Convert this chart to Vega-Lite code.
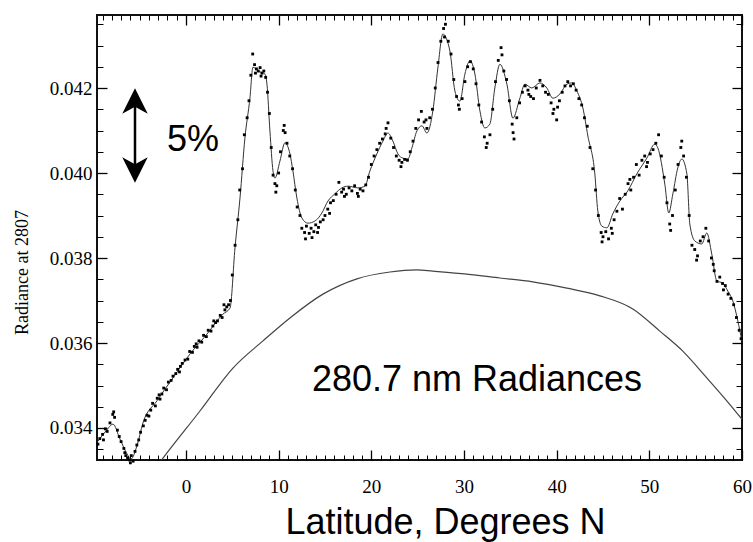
{
  "$schema": "https://vega.github.io/schema/vega-lite/v6.json",
  "width": 645,
  "height": 445,
  "autosize": {"type": "none"},
  "padding": {"left": 97, "top": 15, "right": 11, "bottom": 82},
  "background": "white",
  "config": {"view": {"stroke": "#111", "strokeWidth": 2}},
  "datasets": {
    "clim": [
      {"lat": -3.3, "rad": 0.03305}, {"lat": -2.48, "rad": 0.03329}, {"lat": 1.51, "rad": 0.0344}, {"lat": 5.07, "rad": 0.03541},
      {"lat": 8.31, "rad": 0.03605}, {"lat": 11.22, "rad": 0.03659}, {"lat": 14.78, "rad": 0.03715}, {"lat": 18.45, "rad": 0.03751},
      {"lat": 22.01, "rad": 0.03767}, {"lat": 24.92, "rad": 0.03772}, {"lat": 26.64, "rad": 0.03769}, {"lat": 30.31, "rad": 0.03762},
      {"lat": 33.87, "rad": 0.03753}, {"lat": 37.43, "rad": 0.03744}, {"lat": 41.1, "rad": 0.03729}, {"lat": 44.66, "rad": 0.03711},
      {"lat": 48.22, "rad": 0.0368}, {"lat": 51.13, "rad": 0.03628}, {"lat": 53.61, "rad": 0.03581}, {"lat": 56.2, "rad": 0.03518},
      {"lat": 58.36, "rad": 0.03464}, {"lat": 59.98, "rad": 0.03421}
    ],
    "fit": [
      {"lat": -9.49, "rad": 0.03369}, {"lat": -8.63, "rad": 0.03393}, {"lat": -7.87, "rad": 0.03409}, {"lat": -7.12, "rad": 0.03374},
      {"lat": -6.36, "rad": 0.03339}, {"lat": -5.93, "rad": 0.03327}, {"lat": -5.29, "rad": 0.03358}, {"lat": -4.64, "rad": 0.03412},
      {"lat": -3.13, "rad": 0.03464}, {"lat": -1.4, "rad": 0.03518}, {"lat": 0.43, "rad": 0.03574}, {"lat": 2.27, "rad": 0.03621},
      {"lat": 3.99, "rad": 0.03668}, {"lat": 4.75, "rad": 0.03682}, {"lat": 5.29, "rad": 0.03824}, {"lat": 5.83, "rad": 0.03941},
      {"lat": 6.36, "rad": 0.04082}, {"lat": 6.9, "rad": 0.04176}, {"lat": 7.23, "rad": 0.04249}, {"lat": 7.77, "rad": 0.0424},
      {"lat": 8.52, "rad": 0.04233}, {"lat": 8.74, "rad": 0.04209}, {"lat": 9.06, "rad": 0.04099}, {"lat": 9.39, "rad": 0.04005},
      {"lat": 9.6, "rad": 0.03988}, {"lat": 10.14, "rad": 0.04028}, {"lat": 10.68, "rad": 0.04071}, {"lat": 11.22, "rad": 0.04045},
      {"lat": 11.54, "rad": 0.04005}, {"lat": 11.97, "rad": 0.03941}, {"lat": 12.51, "rad": 0.03894}, {"lat": 13.16, "rad": 0.03882},
      {"lat": 13.92, "rad": 0.03887}, {"lat": 14.67, "rad": 0.03906}, {"lat": 15.32, "rad": 0.03934}, {"lat": 16.07, "rad": 0.03951},
      {"lat": 16.83, "rad": 0.03965}, {"lat": 17.48, "rad": 0.03969}, {"lat": 18.55, "rad": 0.03965}, {"lat": 19.31, "rad": 0.03969},
      {"lat": 19.85, "rad": 0.04005}, {"lat": 20.6, "rad": 0.04045}, {"lat": 21.25, "rad": 0.04075}, {"lat": 21.79, "rad": 0.04094},
      {"lat": 22.33, "rad": 0.04075}, {"lat": 22.87, "rad": 0.04045}, {"lat": 23.41, "rad": 0.04035}, {"lat": 23.95, "rad": 0.04033},
      {"lat": 24.38, "rad": 0.04059}, {"lat": 24.92, "rad": 0.04099}, {"lat": 25.46, "rad": 0.04111}, {"lat": 26.0, "rad": 0.04094},
      {"lat": 26.64, "rad": 0.04146}, {"lat": 27.18, "rad": 0.04247}, {"lat": 27.72, "rad": 0.04327}, {"lat": 28.48, "rad": 0.04287},
      {"lat": 29.02, "rad": 0.04193}, {"lat": 29.56, "rad": 0.04169}, {"lat": 30.1, "rad": 0.04233}, {"lat": 30.64, "rad": 0.04264},
      {"lat": 31.18, "rad": 0.04233}, {"lat": 31.72, "rad": 0.04146}, {"lat": 32.25, "rad": 0.04106}, {"lat": 32.79, "rad": 0.04115},
      {"lat": 33.33, "rad": 0.042}, {"lat": 33.87, "rad": 0.04256}, {"lat": 34.63, "rad": 0.04209}, {"lat": 35.28, "rad": 0.04129},
      {"lat": 36.03, "rad": 0.04176}, {"lat": 36.57, "rad": 0.04209}, {"lat": 37.32, "rad": 0.042}, {"lat": 38.19, "rad": 0.04212},
      {"lat": 38.94, "rad": 0.042}, {"lat": 39.59, "rad": 0.04176}, {"lat": 40.35, "rad": 0.04186}, {"lat": 41.1, "rad": 0.04209},
      {"lat": 41.64, "rad": 0.04212}, {"lat": 42.18, "rad": 0.04193}, {"lat": 42.83, "rad": 0.04153}, {"lat": 43.37, "rad": 0.04087},
      {"lat": 44.12, "rad": 0.03998}, {"lat": 44.44, "rad": 0.03911}, {"lat": 44.88, "rad": 0.03875}, {"lat": 45.42, "rad": 0.03871},
      {"lat": 46.06, "rad": 0.03904}, {"lat": 46.82, "rad": 0.03934}, {"lat": 47.68, "rad": 0.03958}, {"lat": 48.65, "rad": 0.03998},
      {"lat": 49.73, "rad": 0.04035}, {"lat": 50.59, "rad": 0.04068}, {"lat": 50.92, "rad": 0.04059}, {"lat": 51.67, "rad": 0.03974},
      {"lat": 52.1, "rad": 0.03906}, {"lat": 52.54, "rad": 0.03951}, {"lat": 53.07, "rad": 0.04012}, {"lat": 53.51, "rad": 0.04033},
      {"lat": 54.05, "rad": 0.03998}, {"lat": 54.37, "rad": 0.0388}, {"lat": 54.91, "rad": 0.0384}, {"lat": 55.66, "rad": 0.03833},
      {"lat": 56.2, "rad": 0.03859}, {"lat": 56.74, "rad": 0.03809}, {"lat": 57.28, "rad": 0.03746}, {"lat": 57.93, "rad": 0.03741},
      {"lat": 58.47, "rad": 0.03722}, {"lat": 59.01, "rad": 0.03699}, {"lat": 59.55, "rad": 0.03652}, {"lat": 59.98, "rad": 0.03605}
    ],
    "dots": [
      {"lat": -9.5, "rad": 0.03362}, {"lat": -9.3, "rad": 0.03375}, {"lat": -9.0, "rad": 0.03385}, {"lat": -8.7, "rad": 0.03398},
      {"lat": -8.5, "rad": 0.03392}, {"lat": -8.2, "rad": 0.03412}, {"lat": -7.9, "rad": 0.03432}, {"lat": -7.7, "rad": 0.03425},
      {"lat": -7.4, "rad": 0.03395}, {"lat": -7.2, "rad": 0.0338}, {"lat": -7.0, "rad": 0.03368}, {"lat": -6.7, "rad": 0.03352},
      {"lat": -6.5, "rad": 0.03335}, {"lat": -6.3, "rad": 0.0333}, {"lat": -6.1, "rad": 0.03325}, {"lat": -5.9, "rad": 0.03335},
      {"lat": -5.7, "rad": 0.03322}, {"lat": -5.5, "rad": 0.03345}, {"lat": -5.3, "rad": 0.0336}, {"lat": -5.1, "rad": 0.03372},
      {"lat": -4.9, "rad": 0.0339}, {"lat": -4.6, "rad": 0.03405}, {"lat": -4.4, "rad": 0.03418}, {"lat": -4.2, "rad": 0.0343},
      {"lat": -4.0, "rad": 0.03428}, {"lat": -3.8, "rad": 0.03442}, {"lat": -3.6, "rad": 0.03458}, {"lat": -3.3, "rad": 0.03452},
      {"lat": -3.1, "rad": 0.0347}, {"lat": -2.9, "rad": 0.03478}, {"lat": -2.6, "rad": 0.0348}, {"lat": -2.4, "rad": 0.03494},
      {"lat": -2.1, "rad": 0.0349}, {"lat": -1.9, "rad": 0.03508}, {"lat": -1.6, "rad": 0.03512}, {"lat": -1.4, "rad": 0.03522},
      {"lat": -1.1, "rad": 0.03528}, {"lat": -0.9, "rad": 0.03538}, {"lat": -0.6, "rad": 0.03545}, {"lat": -0.4, "rad": 0.03552},
      {"lat": -0.1, "rad": 0.0356}, {"lat": 0.2, "rad": 0.03562}, {"lat": 0.4, "rad": 0.0358}, {"lat": 0.7, "rad": 0.03578},
      {"lat": 0.9, "rad": 0.03592}, {"lat": 1.2, "rad": 0.0359}, {"lat": 1.4, "rad": 0.03605}, {"lat": 1.7, "rad": 0.03602},
      {"lat": 1.9, "rad": 0.03618}, {"lat": 2.2, "rad": 0.03615}, {"lat": 2.4, "rad": 0.0363}, {"lat": 2.7, "rad": 0.03628},
      {"lat": 2.9, "rad": 0.0364}, {"lat": 3.2, "rad": 0.03648}, {"lat": 3.4, "rad": 0.03652}, {"lat": 3.7, "rad": 0.03665},
      {"lat": 3.9, "rad": 0.0366}, {"lat": 4.2, "rad": 0.03678}, {"lat": 4.4, "rad": 0.03685}, {"lat": 4.6, "rad": 0.0369},
      {"lat": 4.8, "rad": 0.037}, {"lat": 5.0, "rad": 0.0376}, {"lat": 5.3, "rad": 0.0383}, {"lat": 5.6, "rad": 0.0389},
      {"lat": 5.8, "rad": 0.0396}, {"lat": 6.1, "rad": 0.0401}, {"lat": 6.3, "rad": 0.0409}, {"lat": 6.6, "rad": 0.0413},
      {"lat": 6.8, "rad": 0.0417}, {"lat": 7.0, "rad": 0.0423}, {"lat": 7.2, "rad": 0.0428}, {"lat": 7.4, "rad": 0.04255},
      {"lat": 7.6, "rad": 0.04245}, {"lat": 7.8, "rad": 0.0424}, {"lat": 8.0, "rad": 0.04248}, {"lat": 8.2, "rad": 0.04235},
      {"lat": 8.4, "rad": 0.0424}, {"lat": 8.6, "rad": 0.04225}, {"lat": 8.8, "rad": 0.0419}, {"lat": 9.0, "rad": 0.0414},
      {"lat": 9.2, "rad": 0.0406}, {"lat": 9.4, "rad": 0.03995}, {"lat": 9.6, "rad": 0.03975}, {"lat": 9.8, "rad": 0.0397},
      {"lat": 10.0, "rad": 0.04}, {"lat": 10.2, "rad": 0.0405}, {"lat": 10.5, "rad": 0.041}, {"lat": 10.7, "rad": 0.04095},
      {"lat": 10.9, "rad": 0.0407}, {"lat": 11.2, "rad": 0.0404}, {"lat": 11.5, "rad": 0.0401}, {"lat": 11.8, "rad": 0.0396},
      {"lat": 12.0, "rad": 0.0392}, {"lat": 12.3, "rad": 0.039}, {"lat": 12.5, "rad": 0.0387}, {"lat": 12.8, "rad": 0.0386},
      {"lat": 13.0, "rad": 0.03875}, {"lat": 13.3, "rad": 0.03858}, {"lat": 13.5, "rad": 0.0387}, {"lat": 13.8, "rad": 0.03862},
      {"lat": 14.0, "rad": 0.03878}, {"lat": 14.3, "rad": 0.03872}, {"lat": 14.5, "rad": 0.03885}, {"lat": 14.8, "rad": 0.0389},
      {"lat": 15.0, "rad": 0.039}, {"lat": 15.3, "rad": 0.03915}, {"lat": 15.6, "rad": 0.0393}, {"lat": 15.9, "rad": 0.03935},
      {"lat": 16.2, "rad": 0.0395}, {"lat": 16.5, "rad": 0.03978}, {"lat": 16.8, "rad": 0.03955}, {"lat": 17.0, "rad": 0.03962},
      {"lat": 17.3, "rad": 0.0395}, {"lat": 17.6, "rad": 0.03965}, {"lat": 17.9, "rad": 0.03958}, {"lat": 18.2, "rad": 0.0397},
      {"lat": 18.5, "rad": 0.03952}, {"lat": 18.8, "rad": 0.03962}, {"lat": 19.1, "rad": 0.03958}, {"lat": 19.4, "rad": 0.03972},
      {"lat": 19.7, "rad": 0.0399}, {"lat": 20.0, "rad": 0.0402}, {"lat": 20.3, "rad": 0.0404}, {"lat": 20.6, "rad": 0.04055},
      {"lat": 20.9, "rad": 0.0407}, {"lat": 21.2, "rad": 0.0408}, {"lat": 21.5, "rad": 0.04092}, {"lat": 21.8, "rad": 0.04118},
      {"lat": 22.1, "rad": 0.04082}, {"lat": 22.4, "rad": 0.0406}, {"lat": 22.7, "rad": 0.0404}, {"lat": 23.0, "rad": 0.0403},
      {"lat": 23.3, "rad": 0.04025}, {"lat": 23.6, "rad": 0.04032}, {"lat": 23.9, "rad": 0.0403}, {"lat": 24.2, "rad": 0.0405},
      {"lat": 24.5, "rad": 0.04075}, {"lat": 24.8, "rad": 0.04105}, {"lat": 25.1, "rad": 0.04125}, {"lat": 25.4, "rad": 0.04145},
      {"lat": 25.7, "rad": 0.0412}, {"lat": 26.0, "rad": 0.04105}, {"lat": 26.3, "rad": 0.0413}, {"lat": 26.6, "rad": 0.0415},
      {"lat": 26.9, "rad": 0.042}, {"lat": 27.2, "rad": 0.0426}, {"lat": 27.5, "rad": 0.0431}, {"lat": 27.8, "rad": 0.0434},
      {"lat": 28.0, "rad": 0.0435}, {"lat": 28.3, "rad": 0.0431}, {"lat": 28.6, "rad": 0.0428}, {"lat": 28.9, "rad": 0.0422},
      {"lat": 29.2, "rad": 0.0418}, {"lat": 29.5, "rad": 0.0415}, {"lat": 29.8, "rad": 0.04175}, {"lat": 30.1, "rad": 0.04215},
      {"lat": 30.4, "rad": 0.0425}, {"lat": 30.7, "rad": 0.04262}, {"lat": 31.0, "rad": 0.04245}, {"lat": 31.3, "rad": 0.0421},
      {"lat": 31.6, "rad": 0.0416}, {"lat": 31.9, "rad": 0.0412}, {"lat": 32.2, "rad": 0.04085}, {"lat": 32.5, "rad": 0.0407},
      {"lat": 32.8, "rad": 0.0409}, {"lat": 33.1, "rad": 0.0415}, {"lat": 33.4, "rad": 0.04215}, {"lat": 33.7, "rad": 0.04265},
      {"lat": 34.0, "rad": 0.04295}, {"lat": 34.3, "rad": 0.0424}, {"lat": 34.6, "rad": 0.0422}, {"lat": 34.9, "rad": 0.0417},
      {"lat": 35.2, "rad": 0.04115}, {"lat": 35.4, "rad": 0.0408}, {"lat": 35.7, "rad": 0.0413}, {"lat": 36.0, "rad": 0.04165},
      {"lat": 36.3, "rad": 0.0419}, {"lat": 36.6, "rad": 0.04205}, {"lat": 36.9, "rad": 0.04195}, {"lat": 37.2, "rad": 0.0418},
      {"lat": 37.5, "rad": 0.04175}, {"lat": 37.8, "rad": 0.042}, {"lat": 38.2, "rad": 0.04218}, {"lat": 38.5, "rad": 0.04205},
      {"lat": 38.8, "rad": 0.0419}, {"lat": 39.1, "rad": 0.04185}, {"lat": 39.4, "rad": 0.04165}, {"lat": 39.7, "rad": 0.0415},
      {"lat": 40.0, "rad": 0.04125}, {"lat": 40.3, "rad": 0.0417}, {"lat": 40.6, "rad": 0.0419}, {"lat": 40.9, "rad": 0.04205},
      {"lat": 41.2, "rad": 0.04215}, {"lat": 41.5, "rad": 0.04205}, {"lat": 41.8, "rad": 0.0421}, {"lat": 42.1, "rad": 0.04195},
      {"lat": 42.4, "rad": 0.04175}, {"lat": 42.7, "rad": 0.0416}, {"lat": 43.0, "rad": 0.0413}, {"lat": 43.3, "rad": 0.0411},
      {"lat": 43.6, "rad": 0.0406}, {"lat": 43.9, "rad": 0.0401}, {"lat": 44.2, "rad": 0.0396}, {"lat": 44.5, "rad": 0.039},
      {"lat": 44.8, "rad": 0.0386}, {"lat": 45.0, "rad": 0.0385}, {"lat": 45.3, "rad": 0.03862}, {"lat": 45.6, "rad": 0.03845},
      {"lat": 45.9, "rad": 0.0387}, {"lat": 46.2, "rad": 0.0389}, {"lat": 46.5, "rad": 0.0391}, {"lat": 46.8, "rad": 0.0394},
      {"lat": 47.1, "rad": 0.03915}, {"lat": 47.4, "rad": 0.0395}, {"lat": 47.7, "rad": 0.03975}, {"lat": 48.0, "rad": 0.0396},
      {"lat": 48.3, "rad": 0.0399}, {"lat": 48.6, "rad": 0.0402}, {"lat": 48.9, "rad": 0.03995}, {"lat": 49.2, "rad": 0.0403},
      {"lat": 49.5, "rad": 0.0404}, {"lat": 49.8, "rad": 0.04025}, {"lat": 50.1, "rad": 0.04045}, {"lat": 50.4, "rad": 0.04055},
      {"lat": 50.7, "rad": 0.0407}, {"lat": 51.0, "rad": 0.0409}, {"lat": 51.3, "rad": 0.0404}, {"lat": 51.6, "rad": 0.0399},
      {"lat": 51.9, "rad": 0.0393}, {"lat": 52.2, "rad": 0.0388}, {"lat": 52.5, "rad": 0.039}, {"lat": 52.8, "rad": 0.0396},
      {"lat": 53.1, "rad": 0.0402}, {"lat": 53.4, "rad": 0.0406}, {"lat": 53.7, "rad": 0.0404}, {"lat": 54.0, "rad": 0.0399},
      {"lat": 54.3, "rad": 0.039}, {"lat": 54.6, "rad": 0.0383}, {"lat": 54.9, "rad": 0.0382}, {"lat": 55.2, "rad": 0.03805},
      {"lat": 55.5, "rad": 0.0384}, {"lat": 55.8, "rad": 0.0385}, {"lat": 56.1, "rad": 0.0387}, {"lat": 56.4, "rad": 0.0384},
      {"lat": 56.7, "rad": 0.038}, {"lat": 57.0, "rad": 0.0377}, {"lat": 57.3, "rad": 0.03745}, {"lat": 57.6, "rad": 0.03755},
      {"lat": 57.9, "rad": 0.0374}, {"lat": 58.2, "rad": 0.03735}, {"lat": 58.5, "rad": 0.03715}, {"lat": 58.8, "rad": 0.03705},
      {"lat": 59.1, "rad": 0.0369}, {"lat": 59.4, "rad": 0.0366}, {"lat": 59.7, "rad": 0.0363}, {"lat": 59.9, "rad": 0.0361},
      {"lat": -8.9, "rad": 0.03372}, {"lat": -7.8, "rad": 0.03438}, {"lat": -6.6, "rad": 0.03342}, {"lat": -6.0, "rad": 0.03318},
      {"lat": -2.8, "rad": 0.03468}, {"lat": -0.7, "rad": 0.03532}, {"lat": 1.1, "rad": 0.03598}, {"lat": 3.0, "rad": 0.03652},
      {"lat": 4.1, "rad": 0.0369}, {"lat": 7.5, "rad": 0.04235}, {"lat": 8.1, "rad": 0.04228}, {"lat": 9.7, "rad": 0.03955},
      {"lat": 10.6, "rad": 0.04112}, {"lat": 12.9, "rad": 0.03845}, {"lat": 13.6, "rad": 0.03848}, {"lat": 14.2, "rad": 0.0386},
      {"lat": 15.5, "rad": 0.03905}, {"lat": 17.1, "rad": 0.03945}, {"lat": 18.6, "rad": 0.03945}, {"lat": 21.6, "rad": 0.04105},
      {"lat": 23.2, "rad": 0.04015}, {"lat": 25.9, "rad": 0.04125}, {"lat": 27.9, "rad": 0.0432}, {"lat": 29.4, "rad": 0.0416},
      {"lat": 32.4, "rad": 0.0406}, {"lat": 34.1, "rad": 0.04278}, {"lat": 35.3, "rad": 0.04095}, {"lat": 37.0, "rad": 0.04185},
      {"lat": 39.6, "rad": 0.0414}, {"lat": 40.1, "rad": 0.04155}, {"lat": 44.9, "rad": 0.03838}, {"lat": 46.0, "rad": 0.03858},
      {"lat": 47.9, "rad": 0.03985}, {"lat": 49.7, "rad": 0.04015}, {"lat": 52.3, "rad": 0.03865}, {"lat": 53.5, "rad": 0.04075},
      {"lat": 55.1, "rad": 0.03795}, {"lat": 56.9, "rad": 0.03785}, {"lat": 58.0, "rad": 0.03725}
    ],
    "arrow": [{"lat": -5.5, "top": 0.041694, "bottom": 0.040071}],
    "heads": [{"lat": -5.5, "rad": 0.041694, "dir": "up"}, {"lat": -5.5, "rad": 0.040071, "dir": "down"}],
    "labels": [
      {"lat": -2.05, "rad": 0.04052, "text": "5%"},
      {"lat": 13.59, "rad": 0.034871, "text": "280.7 nm Radiances"}
    ]
  },
  "resolve": {"scale": {"x": "independent", "y": "independent"}, "axis": {"x": "independent", "y": "independent"}},
  "layer": [
    {
      "data": {"name": "clim"},
      "mark": {"type": "line", "color": "#444", "strokeWidth": 1.2, "clip": true, "interpolate": "monotone"},
      "encoding": {
        "x": {"field": "lat", "type": "quantitative", "scale": {"domain": [-9.6, 60], "nice": false, "zero": false},
          "axis": {"orient": "bottom", "values": [0, 10, 20, 30, 40, 50, 60], "format": "d", "ticks": false, "domain": false, "grid": false,
            "labelFont": "Liberation Serif", "labelFontSize": 19, "labelColor": "#000", "labelPadding": 17, "labelFlush": false, "labelOverlap": false,
            "title": "Latitude, Degrees N", "titleFont": "Liberation Sans", "titleFontSize": 36, "titleFontWeight": "normal", "titleColor": "#000",
            "titleX": 348, "titleY": 73, "titleAlign": "center", "titleBaseline": "alphabetic"}},
        "y": {"field": "rad", "type": "quantitative", "scale": {"domain": [0.033247, 0.043718], "nice": false, "zero": false},
          "axis": {"orient": "left", "values": [0.034, 0.036, 0.038, 0.04, 0.042], "format": ".3f", "ticks": false, "domain": false, "grid": false,
            "labelFont": "Liberation Serif", "labelFontSize": 19, "labelColor": "#000", "labelPadding": 5, "labelFlush": false, "labelOverlap": false,
            "title": "Radiance at 2807", "titleFont": "Liberation Serif", "titleFontSize": 18, "titleFontWeight": "normal", "titleColor": "#000",
            "titleX": -75, "titleY": 257, "titleAngle": -90, "titleAlign": "center", "titleBaseline": "middle"}}
      }
    },
    {
      "data": {"name": "fit"},
      "mark": {"type": "line", "color": "#333", "strokeWidth": 1, "interpolate": "monotone"},
      "encoding": {
        "x": {"field": "lat", "type": "quantitative", "scale": {"domain": [-9.6, 60], "nice": false, "zero": false},
          "axis": {"orient": "bottom", "values": [0, 10, 20, 30, 40, 50, 60], "labels": false, "domain": false, "grid": false, "title": null,
            "ticks": true, "tickSize": 10, "offset": -10, "tickColor": "#000", "tickWidth": 1.3}},
        "y": {"field": "rad", "type": "quantitative", "scale": {"domain": [0.033247, 0.043718], "nice": false, "zero": false},
          "axis": {"orient": "left", "values": [0.034, 0.036, 0.038, 0.04, 0.042], "labels": false, "domain": false, "grid": false, "title": null,
            "ticks": true, "tickSize": 10, "offset": -10, "tickColor": "#000", "tickWidth": 1.3}}
      }
    },
    {
      "data": {"name": "dots"},
      "mark": {"type": "point", "shape": "square", "filled": true, "color": "#000", "size": 8, "opacity": 1},
      "encoding": {
        "x": {"field": "lat", "type": "quantitative", "scale": {"domain": [-9.6, 60], "nice": false, "zero": false},
          "axis": {"orient": "bottom", "values": [-9, -8, -7, -6, -5, -4, -3, -2, -1, 1, 2, 3, 4, 5, 6, 7, 8, 9, 11, 12, 13, 14, 15, 16, 17, 18, 19, 21, 22, 23, 24, 25, 26, 27, 28, 29, 31, 32, 33, 34, 35, 36, 37, 38, 39, 41, 42, 43, 44, 45, 46, 47, 48, 49, 51, 52, 53, 54, 55, 56, 57, 58, 59],
            "labels": false, "domain": false, "grid": false, "title": null, "ticks": true, "tickSize": 5, "offset": -5, "tickColor": "#000", "tickWidth": 1}},
        "y": {"field": "rad", "type": "quantitative", "scale": {"domain": [0.033247, 0.043718], "nice": false, "zero": false},
          "axis": {"orient": "left", "values": [0.0335, 0.0345, 0.035, 0.0355, 0.0365, 0.037, 0.0375, 0.0385, 0.039, 0.0395, 0.0405, 0.041, 0.0415, 0.0425, 0.043, 0.0435],
            "labels": false, "domain": false, "grid": false, "title": null, "ticks": true, "tickSize": 6, "offset": -6, "tickColor": "#000", "tickWidth": 1}}
      }
    },
    {
      "data": {"name": "arrow"},
      "mark": {"type": "rule", "color": "#000", "strokeWidth": 2.5},
      "encoding": {
        "x": {"field": "lat", "type": "quantitative", "scale": {"domain": [-9.6, 60], "nice": false, "zero": false},
          "axis": {"orient": "top", "values": [0, 10, 20, 30, 40, 50, 60], "labels": false, "domain": false, "grid": false, "title": null,
            "ticks": true, "tickSize": 10, "offset": -10, "tickColor": "#000", "tickWidth": 1.3}},
        "y": {"field": "top", "type": "quantitative", "scale": {"domain": [0.033247, 0.043718], "nice": false, "zero": false},
          "axis": {"orient": "right", "values": [0.034, 0.036, 0.038, 0.04, 0.042], "labels": false, "domain": false, "grid": false, "title": null,
            "ticks": true, "tickSize": 10, "offset": -10, "tickColor": "#000", "tickWidth": 1.3}},
        "y2": {"field": "bottom"}
      }
    },
    {
      "data": {"name": "heads"},
      "mark": {"type": "point", "filled": true, "color": "#000", "size": 650, "opacity": 1},
      "encoding": {
        "x": {"field": "lat", "type": "quantitative", "scale": {"domain": [-9.6, 60], "nice": false, "zero": false},
          "axis": {"orient": "top", "values": [-9, -8, -7, -6, -5, -4, -3, -2, -1, 1, 2, 3, 4, 5, 6, 7, 8, 9, 11, 12, 13, 14, 15, 16, 17, 18, 19, 21, 22, 23, 24, 25, 26, 27, 28, 29, 31, 32, 33, 34, 35, 36, 37, 38, 39, 41, 42, 43, 44, 45, 46, 47, 48, 49, 51, 52, 53, 54, 55, 56, 57, 58, 59],
            "labels": false, "domain": false, "grid": false, "title": null, "ticks": true, "tickSize": 5, "offset": -5, "tickColor": "#000", "tickWidth": 1}},
        "y": {"field": "rad", "type": "quantitative", "scale": {"domain": [0.033247, 0.043718], "nice": false, "zero": false},
          "axis": {"orient": "right", "values": [0.0335, 0.0345, 0.035, 0.0355, 0.0365, 0.037, 0.0375, 0.0385, 0.039, 0.0395, 0.0405, 0.041, 0.0415, 0.0425, 0.043, 0.0435],
            "labels": false, "domain": false, "grid": false, "title": null, "ticks": true, "tickSize": 6, "offset": -6, "tickColor": "#000", "tickWidth": 1}},
        "shape": {"field": "dir", "type": "nominal", "legend": null,
          "scale": {"domain": ["up", "down"], "range": ["M0,-1L1,1L0,0.45L-1,1Z", "M0,1L1,-1L0,-0.45L-1,-1Z"]}}
      }
    },
    {
      "data": {"name": "labels"},
      "mark": {"type": "text", "font": "Liberation Sans", "fontSize": 36, "align": "left", "baseline": "alphabetic", "color": "#000"},
      "encoding": {
        "x": {"field": "lat", "type": "quantitative", "scale": {"domain": [-9.6, 60], "nice": false, "zero": false}, "axis": null},
        "y": {"field": "rad", "type": "quantitative", "scale": {"domain": [0.033247, 0.043718], "nice": false, "zero": false}, "axis": null},
        "text": {"field": "text"}
      }
    }
  ]
}
